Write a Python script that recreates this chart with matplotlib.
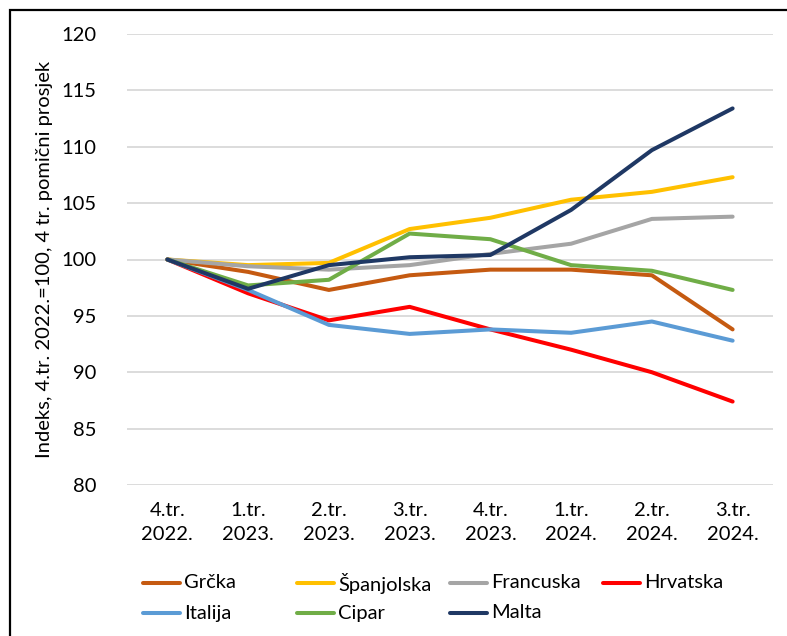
import matplotlib
matplotlib.use("Agg")
import matplotlib.pyplot as plt
from matplotlib.lines import Line2D
from matplotlib.patches import Rectangle

# quarters on the x axis
quarters = ["4.tr.\n2022.", "1.tr.\n2023.", "2.tr.\n2023.", "3.tr.\n2023.",
            "4.tr.\n2023.", "1.tr.\n2024.", "2.tr.\n2024.", "3.tr.\n2024."]

# index, 4.tr. 2022. = 100
grcka = [100, 98.9, 97.3, 98.6, 99.1, 99.1, 98.6, 93.8]
spanjolska = [100, 99.5, 99.7, 102.7, 103.7, 105.3, 106.0, 107.3]
francuska = [100, 99.4, 99.1, 99.5, 100.5, 101.4, 103.6, 103.8]
hrvatska = [100, 97.0, 94.6, 95.8, 93.8, 92.0, 90.0, 87.4]
italija = [100, 97.3, 94.2, 93.4, 93.8, 93.5, 94.5, 92.8]
cipar = [100, 97.7, 98.2, 102.3, 101.8, 99.5, 99.0, 97.3]
malta = [100, 97.4, 99.5, 100.2, 100.4, 104.4, 109.7, 113.4]

series = [
    ("Grčka", grcka, "#C55A11"),
    ("Španjolska", spanjolska, "#FFC000"),
    ("Francuska", francuska, "#A5A5A5"),
    ("Hrvatska", hrvatska, "#FF0000"),
    ("Italija", italija, "#5B9BD5"),
    ("Cipar", cipar, "#70AD47"),
    ("Malta", malta, "#1F3864"),
]

plt.rcParams["font.family"] = ["Lato", "DejaVu Sans"]
W, H = 787, 636

fig = plt.figure(figsize=(W / 100, H / 100), dpi=100)
ax = fig.add_axes([127 / W, 1 - 485 / H, 646 / W, 451 / H])

x = list(range(len(quarters)))
for name, vals, col in series:
    ax.plot(x, vals, color=col, lw=2.9, solid_capstyle="round",
            solid_joinstyle="round", label=name)

ax.set_xlim(-0.5, len(quarters) - 0.5)
ax.set_ylim(80, 120)
ax.set_yticks(range(80, 121, 5))
ax.set_xticks(x)
ax.set_xticklabels(quarters, linespacing=1.55)
ax.tick_params(axis="both", length=0, labelsize=14.5, colors="black")
ax.tick_params(axis="x", pad=12)
ax.tick_params(axis="y", pad=22)
ax.grid(axis="y", color="#D9D9D9", lw=1.3)
ax.set_axisbelow(True)
for s in ax.spines.values():
    s.set_visible(False)
ax.set_ylabel("Indeks, 4.tr. 2022.=100, 4 tr. pomični prosjek", fontsize=14.5)
ax.yaxis.set_label_coords(-0.114, 0.5)

# legend: 4 equal-width columns, 2 rows
col_x = [143, 297, 450, 603]
row_y = [583, 613]
for i, (name, vals, col) in enumerate(series):
    cx = col_x[i % 4]
    cy = 1 - row_y[i // 4] / H
    fig.add_artist(Line2D([cx / W, (cx + 37) / W], [cy, cy], color=col,
                          lw=2.9, solid_capstyle="round",
                          transform=fig.transFigure))
    fig.text((cx + 41) / W, cy, name, fontsize=14.5, va="center", ha="left")

# outer frame (left and top edges visible)
fig.patches.append(Rectangle((10 / W, -0.2), 1.5, 1.2 - 10 / H,
                             transform=fig.transFigure, fill=False,
                             edgecolor="black", lw=1.6))

fig.savefig("out.png", dpi=100)
